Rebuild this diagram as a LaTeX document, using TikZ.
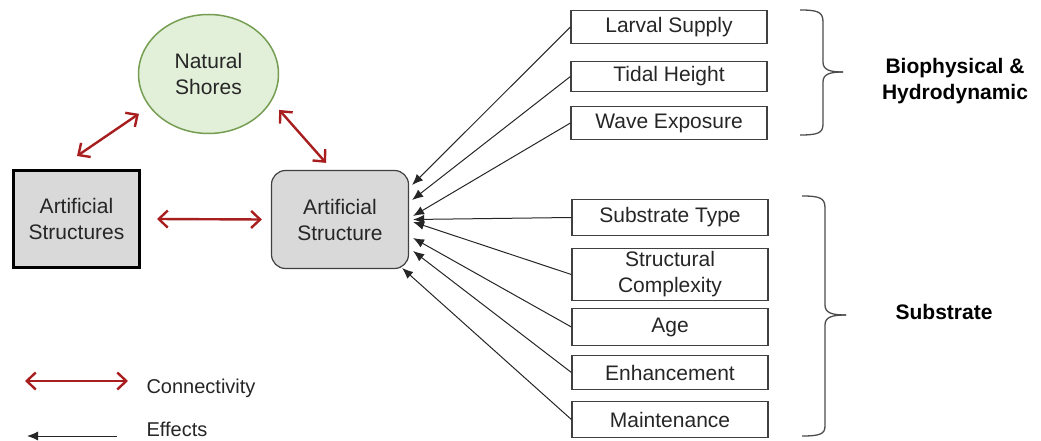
\documentclass[tikz,border=0pt]{standalone}
\usepackage{fontspec}
\setmainfont{Liberation Sans}
\usetikzlibrary{arrows.meta,calc,shapes.geometric}
\definecolor{conred}{HTML}{A81E1E}
\definecolor{boxgray}{HTML}{D9D9D9}
\definecolor{nsfill}{HTML}{E2EFD9}
\definecolor{nsdraw}{HTML}{769E52}
\definecolor{txt}{HTML}{262626}
\begin{document}
\begin{tikzpicture}[x=1pt,y=-1pt,
  every node/.style={text=txt},
  factor/.style={draw=black!75, line width=1.2pt, minimum width=196pt, inner sep=0pt,
    font=\fontsize{21}{26}\selectfont, align=center},
  conn/.style={draw=conred, line width=2.4pt,
    {Straight Barb[length=9pt,width=17pt]}-{Straight Barb[length=9pt,width=17pt]}},
  eff/.style={draw=black!85, line width=1pt, -{Latex[length=11pt,width=9pt]}},
  bigtxt/.style={font=\fontsize{21}{26}\selectfont, align=center},
  brace/.style={draw=black!70, line width=1.3pt},
  group/.style={font=\bfseries\fontsize{21}{26}\selectfont, align=center, text=black},
  legtxt/.style={font=\fontsize{20}{24}\selectfont, anchor=base west}
]
\useasboundingbox (0,0) rectangle (1041,441);

% main nodes
\node[ellipse, draw=nsdraw, fill=nsfill, line width=1.5pt, minimum width=140pt,
  minimum height=119pt, inner sep=0pt, bigtxt] (ns) at (208.5,74) {Natural\\Shores};
\node[draw=black, fill=boxgray, line width=3pt, minimum width=126pt, minimum height=97pt,
  inner sep=0pt, bigtxt] (asl) at (76.5,219) {Artificial\\Structures};
\node[draw=black!75, fill=boxgray, line width=1.2pt, rounded corners=14pt, minimum width=137pt,
  minimum height=98pt, inner sep=0pt, bigtxt] (asr) at (340,219.5) {Artificial\\Structure};

% factor boxes
\node[factor, minimum height=33pt] (larval) at (669,27) {Larval Supply};
\node[factor, minimum height=30pt] (tidal) at (669,76.5) {Tidal Height};
\node[factor, minimum height=33pt] (wave) at (669,123) {Wave Exposure};
\node[factor, minimum height=36pt] (subtype) at (670,217.5) {Substrate Type};
\node[factor, minimum height=52pt] (struct) at (670,274.5) {Structural\\Complexity};
\node[factor, minimum height=37pt] (age) at (670,327) {Age};
\node[factor, minimum height=34pt] (enh) at (670,372.5) {Enhancement};
\node[factor, minimum height=36pt] (maint) at (670,419.5) {Maintenance};

% connectivity arrows
\draw[conn] ($(asl.north)+(0.5,-13)$) -- ($(ns.210)+(-11,6)$);
\draw[conn] ($(ns.333)+(10,5)$) -- ($(asr.north)+(-14,-7)$);
\draw[conn] ($(asl.east)+(16,0)$) -- ($(asr.west)+(-9,0)$);

% effect arrows
\draw[eff] (larval.west) -- ($(asr.east)+(3,-34.5)$);
\draw[eff] (tidal.west) -- ($(asr.east)+(3,-19.5)$);
\draw[eff] (wave.west) -- ($(asr.east)+(4,-3.5)$);
\draw[eff] (subtype.west) -- ($(asr.east)+(4,0)$);
\draw[eff] (struct.west) -- ($(asr.east)+(4,2.5)$);
\draw[eff] (age.west) -- ($(asr.east)+(4,18.5)$);
\draw[eff] (enh.west) -- ($(asr.east)+(4,31.5)$);
\draw[eff] (maint.west) -- ($(asr.east)+(-7,48.5)$);

% braces
\draw[brace] (800,10) .. controls (818,10) and (823,12) .. (823,22) -- (823,62)
  .. controls (823,70) and (830,72) .. (843,72);
\draw[brace] (843,72) .. controls (830,72) and (823,74) .. (823,82) -- (823,124)
  .. controls (823,133) and (818,135) .. (800,135);
\draw[brace] (802,196) .. controls (820,196) and (825,198) .. (825,208) -- (825,305)
  .. controls (825,313) and (832,315) .. (846,315);
\draw[brace] (846,315) .. controls (832,315) and (825,317) .. (825,325) -- (825,426)
  .. controls (825,434) and (820,436) .. (802,436);

\node[group] (bio) at (955,81) {Biophysical \&\\Hydrodynamic};
\node[group] (sub) at (944,312) {Substrate};

% legend
\coordinate (c1) at (25,381);
\coordinate (c2) at (128,381);
\draw[conn] (c1) -- (c2);
\node[legtxt] (lc) at (143,393) {Connectivity};
\coordinate (e1) at (117,436);
\coordinate (e2) at (27,436);
\draw[eff] (e1) -- (e2);
\node[legtxt] (le) at (143,436) {Effects};
\end{tikzpicture}
\end{document}
